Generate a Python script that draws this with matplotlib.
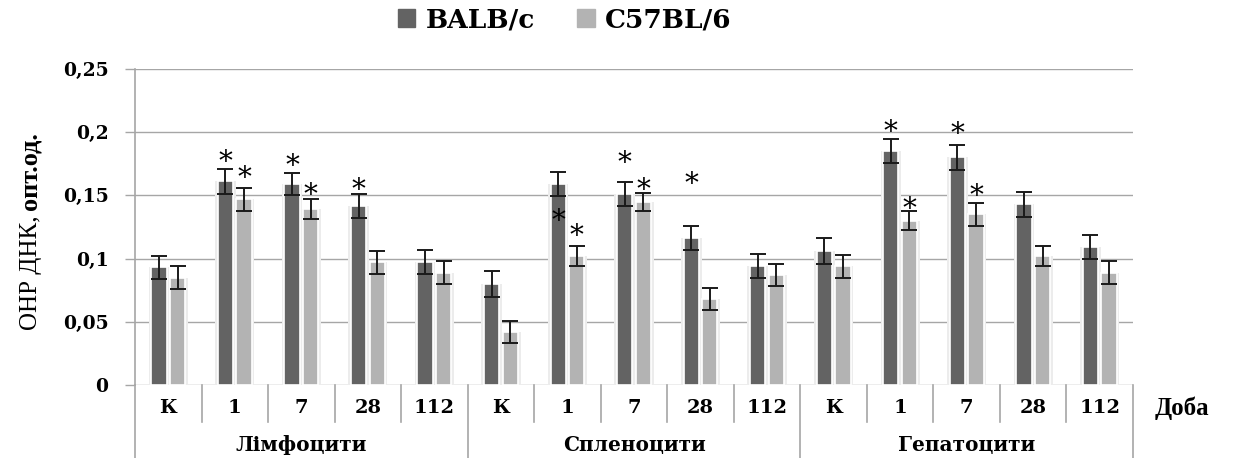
import numpy as np
import matplotlib.pyplot as plt
from matplotlib.lines import Line2D
from matplotlib.transforms import blended_transform_factory

# data
groups = ['Лімфоцити', 'Спленоцити', 'Гепатоцити']
days = ['К', '1', '7', '28', '112']
series_names = ['BALB/c', 'C57BL/6']

balb = [0.093, 0.161, 0.159, 0.142, 0.097,
        0.080, 0.159, 0.151, 0.116, 0.094,
        0.106, 0.185, 0.180, 0.143, 0.109]
balb_err = [0.009, 0.0095, 0.009, 0.0095, 0.0095,
            0.010, 0.0095, 0.0095, 0.0095, 0.0095,
            0.010, 0.0095, 0.010, 0.010, 0.0095]
c57 = [0.085, 0.147, 0.139, 0.097, 0.089,
       0.042, 0.102, 0.145, 0.068, 0.087,
       0.094, 0.130, 0.135, 0.102, 0.089]
c57_err = [0.009, 0.009, 0.008, 0.009, 0.009,
           0.009, 0.0077, 0.007, 0.009, 0.0087,
           0.009, 0.0077, 0.009, 0.008, 0.009]

# heights of the significance stars (None = no star)
balb_star = [None, 0.176, 0.1725, 0.154, None,
             None, 0.129, 0.175, 0.159, None,
             None, 0.200, 0.1985, None, None]
c57_star = [None, 0.1635, 0.150, None, None,
            None, 0.1175, 0.1535, None, None,
            None, 0.139, 0.1495, None, None]

yticks = [0, 0.05, 0.1, 0.15, 0.2, 0.25]
ytick_labels = ['0', '0,05', '0,1', '0,15', '0,2', '0,25']

dark = '#636363'
light = '#b3b3b3'
grid_c = '#a6a6a6'

fig = plt.figure(figsize=(12.47, 4.58), dpi=100)
ax = fig.add_axes([135 / 1247, 73 / 458, 998 / 1247, 316 / 458])

n = len(balb)
x = np.arange(n) + 0.5
off = 0.14
w = 0.23

for xs, vals, col in [(x - off, balb, dark), (x + off, c57, light)]:
    ax.bar(xs, vals, width=w + 0.08, color='#ececec', zorder=2)
    ax.bar(xs, vals, width=w, color=col, edgecolor='white', linewidth=1.2, zorder=3)

ax.errorbar(x - off, balb, yerr=balb_err, fmt='none', ecolor='#1a1a1a',
            elinewidth=1.4, capsize=5.5, capthick=1.4, zorder=4)
ax.errorbar(x + off, c57, yerr=c57_err, fmt='none', ecolor='#1a1a1a',
            elinewidth=1.4, capsize=5.5, capthick=1.4, zorder=4)

for xs, stars in [(x - off, balb_star), (x + off, c57_star)]:
    for xi, s in zip(xs, stars):
        if s is not None:
            ax.text(xi, s, '*', ha='center', va='center', fontsize=20,
                    family='DejaVu Serif', zorder=5)

ax.set_xlim(0, n)
ax.set_ylim(0, 0.25)
ax.set_yticks(yticks)
ax.set_yticklabels(ytick_labels, family='DejaVu Serif', fontweight='bold', fontsize=13.5)
ax.tick_params(axis='y', length=7, width=1, color=grid_c, pad=12)
ax.set_xticks([])
ax.yaxis.grid(True, color=grid_c, linewidth=1, zorder=0)
ax.set_axisbelow(True)
for sp in ['top', 'right', 'bottom']:
    ax.spines[sp].set_visible(False)
ax.spines['left'].set_color(grid_c)
ax.spines['left'].set_linewidth(1.2)

# category table under the axis
tr = blended_transform_factory(ax.transData, ax.transAxes)
for i in range(n + 1):
    y_end = -0.231 if i % len(days) == 0 else -0.117
    ax.add_line(Line2D([i, i], [0, y_end], transform=tr, color=grid_c,
                       linewidth=1.2, clip_on=False))
for i in range(n):
    ax.text(x[i], -0.073, days[i % len(days)], transform=tr, ha='center', va='center',
            family='DejaVu Serif', fontweight='bold', fontsize=14)
for g, name in enumerate(groups):
    ax.text(g * len(days) + len(days) / 2, -0.19, name, transform=tr, ha='center',
            va='center', family='DejaVu Serif', fontweight='bold', fontsize=14.5)
ax.text(1.049, -0.073, 'Доба', transform=ax.transAxes, ha='center', va='center',
        family='Liberation Serif', fontweight='bold', fontsize=18)

# y label in two parts
fig.text(37 / 1247, 1 - 330 / 458, 'ОНР ДНК,', rotation=90, rotation_mode='anchor',
         ha='left', va='baseline', family='Liberation Serif', fontsize=18)
fig.text(37 / 1247, 1 - 210 / 458, 'опт.од.', rotation=90, rotation_mode='anchor',
         ha='left', va='baseline', family='Liberation Serif', fontweight='bold', fontsize=19)

handles = [plt.Rectangle((0, 0), 1, 1, color=dark), plt.Rectangle((0, 0), 1, 1, color=light)]
fig.legend(handles, series_names, loc='center', bbox_to_anchor=(0.453, 1 - 20 / 458),
           ncol=2, frameon=False, handlelength=0.65, handleheight=0.65, handletextpad=0.4,
           columnspacing=1.6, prop={'family': 'DejaVu Serif', 'weight': 'bold', 'size': 19})

fig.savefig('out.png', dpi=100)
